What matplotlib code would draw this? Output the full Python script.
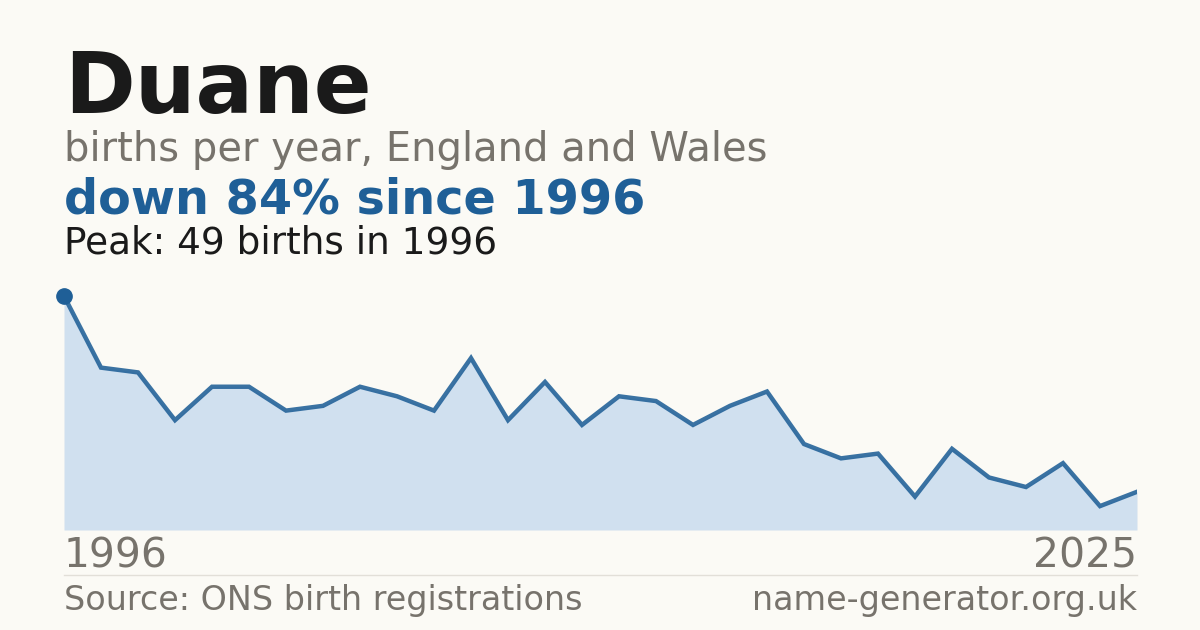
import matplotlib
matplotlib.use("Agg")
import matplotlib.pyplot as plt
from matplotlib.lines import Line2D

years = list(range(1996, 2026))
births = [49, 34, 33, 23, 30, 30, 25, 26, 30, 28, 25, 36, 23, 31, 22,
          28, 27, 22, 26, 29, 18, 15, 16, 7, 17, 11, 9, 14, 5, 8]

name = "Duane"
subtitle = "births per year, England and Wales"
headline = "down 84% since 1996"
peak_text = "Peak: 49 births in 1996"
source = "Source: ONS birth registrations"
site = "name-generator.org.uk"

BG = "#fbfaf5"
BLUE = "#1f5f97"
FILL = "#d0e0ef"
GRAY = "#77736c"
DARK = "#1a1a1a"

W, H = 1200, 630
fig = plt.figure(figsize=(W / 100, H / 100), dpi=100, facecolor=BG)

def fx(px):
    return px / W

def fy(py):
    return 1 - py / H

ax = fig.add_axes([fx(64), fy(530), fx(1137) - fx(64), (530 - 296) / H])
ax.set_facecolor("none")
ax.fill_between(years, births, 0, color=FILL, linewidth=0)
ax.plot(years, births, color=BLUE, linewidth=3.2, solid_joinstyle="miter", alpha=0.88)
ax.plot([years[0]], [births[0]], "o", color=BLUE, markersize=11, clip_on=False, zorder=5)
ax.set_xlim(years[0], years[-1])
ax.set_ylim(0, max(births))
ax.axis("off")

fig.text(fx(64), fy(113), name, fontsize=61.5, fontweight="bold", color=DARK, ha="left", va="baseline")
fig.text(fx(64), fy(161), subtitle, fontsize=28.8, color=GRAY, ha="left", va="baseline")
fig.text(fx(64), fy(214), headline, fontsize=34.4, fontweight="bold", color=BLUE, ha="left", va="baseline")
fig.text(fx(64), fy(254), peak_text, fontsize=26.9, color=DARK, ha="left", va="baseline")

fig.text(fx(64), fy(568), str(years[0]), fontsize=29.4, color=GRAY, ha="left", va="baseline")
fig.text(fx(1137), fy(568), str(years[-1]), fontsize=29.4, color=GRAY, ha="right", va="baseline")
fig.add_artist(Line2D([fx(64), fx(1137)], [fy(574.5), fy(574.5)], color="#e2dfd8", linewidth=1))
fig.text(fx(64), fy(610), source, fontsize=24, color=GRAY, ha="left", va="baseline")
fig.text(fx(1137), fy(610), site, fontsize=24, color=GRAY, ha="right", va="baseline")

fig.savefig("out.png", dpi=100, facecolor=BG)
